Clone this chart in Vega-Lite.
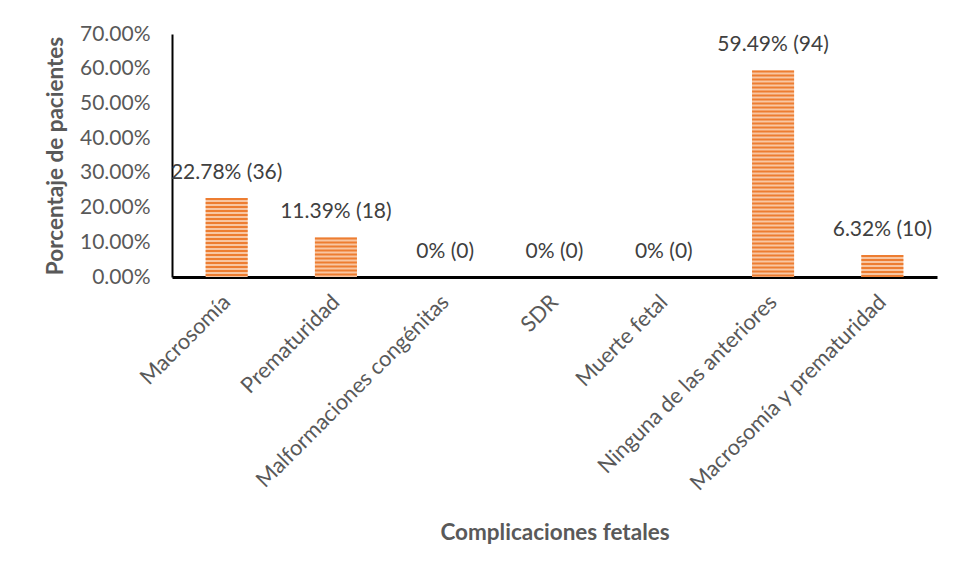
{
  "$schema": "https://vega.github.io/schema/vega-lite/v6.json",
  "autosize": "none",
  "width": 765,
  "height": 243,
  "padding": {"left": 172, "top": 34, "right": 20, "bottom": 301},
  "background": "white",
  "config": {
    "view": {"stroke": null},
    "font": "Lato",
    "axis": {"labelFont": "Lato", "titleFont": "Lato", "labelColor": "#595959", "titleColor": "#595959", "labelFontSize": 21, "titleFontSize": 22.5, "titleFontWeight": "bold", "grid": false, "ticks": false, "domainColor": "#000000"}
  },
  "data": {
    "values": [
      {"cat": "Macrosomía", "pct": 0.2278, "label": "22.78% (36)"},
      {"cat": "Prematuridad", "pct": 0.1139, "label": "11.39% (18)"},
      {"cat": "Malformaciones congénitas", "pct": 0, "label": "0% (0)"},
      {"cat": "SDR", "pct": 0, "label": "0% (0)"},
      {"cat": "Muerte fetal", "pct": 0, "label": "0% (0)"},
      {"cat": "Ninguna de las anteriores", "pct": 0.5949, "label": "59.49% (94)"},
      {"cat": "Macrosomía y prematuridad", "pct": 0.0632, "label": "6.32% (10)"}
    ]
  },
  "encoding": {
    "x": {
      "field": "cat", "type": "nominal", "sort": null,
      "scale": {"paddingInner": 0.615, "paddingOuter": 0.3075},
      "axis": {"title": "Complicaciones fetales", "labelAngle": -45, "labelFontSize": 21.8, "labelPadding": 14, "labelOffset": -7, "titlePadding": 44, "domainWidth": 3, "labelLimit": 400}
    },
    "y": {
      "field": "pct", "type": "quantitative",
      "scale": {"domain": [0, 0.7], "nice": false},
      "axis": {"title": "Porcentaje de pacientes", "format": ".2%", "values": [0, 0.1, 0.2, 0.3, 0.4, 0.5, 0.6, 0.7], "labelPadding": 22, "titlePadding": 12, "domainWidth": 2}
    }
  },
  "layer": [
    {"mark": {"type": "bar", "fill": "#F8C6A2"}},
    {"mark": {"type": "rule", "stroke": "#ED7D31", "strokeWidth": 42, "strokeDash": [2, 2], "strokeCap": "butt"}, "encoding": {"y2": {"datum": 0}}},
    {"mark": {"type": "text", "font": "Lato", "fontSize": 21, "color": "#404040", "baseline": "middle", "dy": -25}, "encoding": {"text": {"field": "label"}}}
  ]
}
